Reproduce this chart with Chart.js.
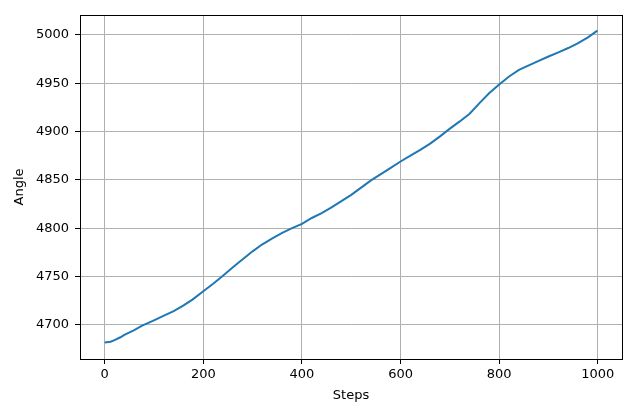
<!DOCTYPE html>
<html>
<head>
<meta charset="utf-8">
<script src="https://cdn.jsdelivr.net/npm/chart.js@4"></script>
<style>
  html, body { margin: 0; padding: 0; background: #ffffff; }
  #wrap { width: 640px; height: 409px; }
</style>
</head>
<body>
<div id="wrap"><canvas id="grafico"></canvas></div>
<script>
"use strict";

// data
const steps = [0, 12, 20, 32, 40, 60, 76, 100, 117, 140, 160, 178, 200, 220, 238, 260, 278, 300,
               319, 340, 360, 380, 400, 420, 440, 460, 480, 500, 520, 540, 560, 580, 600, 620,
               640, 660, 680, 700, 720, 740, 760, 780, 800, 820, 840, 860, 880, 900, 920, 940,
               960, 980, 999];
const angle = [4681.5, 4682.4, 4684, 4687, 4689.5, 4694.5, 4699, 4704.5, 4708.6, 4714, 4720, 4726,
               4734.6, 4742.5, 4750, 4759.5, 4767, 4776, 4783, 4789.5, 4795, 4800, 4804.5, 4810.5,
               4815.5, 4821.5, 4828, 4834.5, 4842, 4849.5, 4856, 4862.5, 4869, 4875, 4881, 4887.5,
               4895, 4903, 4910.5, 4918.5, 4929.5, 4940, 4948.8, 4957, 4963.8, 4968.5, 4973.2,
               4977.7, 4982, 4986.5, 4991.5, 4997.5, 5004.5];
const xTicks = [0, 200, 400, 600, 800, 1000];
const yTicks = [4700, 4750, 4800, 4850, 4900, 4950, 5000];

const fuente = { family: "DejaVu Sans", size: 13 };

const marco = {
    id: "marco",
    afterDraw(chart) {
        const a = chart.chartArea;
        const ctx = chart.ctx;
        ctx.save();
        ctx.strokeStyle = "#000000";
        ctx.lineWidth = 1;
        ctx.strokeRect(Math.round(a.left) + 0.5, Math.round(a.top) + 0.5,
                       Math.round(a.right - a.left), Math.round(a.bottom - a.top));
        ctx.restore();
    }
};

new Chart(document.getElementById("grafico"), {
    type: "line",
    data: {
        datasets: [{
            data: steps.map((s, i) => ({ x: s, y: angle[i] })),
            borderColor: "#1f77b4",
            borderWidth: 2,
            pointRadius: 0,
            tension: 0,
            fill: false
        }]
    },
    options: {
        responsive: true,
        maintainAspectRatio: false,
        animation: false,
        layout: { padding: { left: 0, right: 18, top: 15, bottom: 0 } },
        plugins: {
            legend: { display: false },
            tooltip: { enabled: false }
        },
        scales: {
            x: {
                type: "linear",
                min: -50,
                max: 1049,
                afterBuildTicks: (s) => { s.ticks = xTicks.map(v => ({ value: v })); },
                afterFit: (s) => { s.height = 50; },
                ticks: { color: "#000000", font: fuente, padding: 3, maxRotation: 0,
                         callback: (v) => String(v) },
                grid: { color: "#b0b0b0", lineWidth: 1, tickColor: "#000000", tickLength: 5 },
                border: { color: "#000000" },
                title: { display: true, text: "Steps", color: "#000000", font: fuente,
                         padding: { top: 0, bottom: 6 } }
            },
            y: {
                type: "linear",
                min: 4664.5,
                max: 5020.7,
                afterBuildTicks: (s) => { s.ticks = yTicks.map(v => ({ value: v })); },
                afterFit: (s) => { s.width = 80; },
                ticks: { color: "#000000", font: fuente, padding: 6,
                         callback: (v) => String(v) },
                grid: { color: "#b0b0b0", lineWidth: 1, tickColor: "#000000", tickLength: 5 },
                border: { color: "#000000" },
                title: { display: true, text: "Angle", color: "#000000", font: fuente,
                         padding: { top: 12, bottom: 0 } }
            }
        }
    },
    plugins: [marco]
});
</script>
</body>
</html>
